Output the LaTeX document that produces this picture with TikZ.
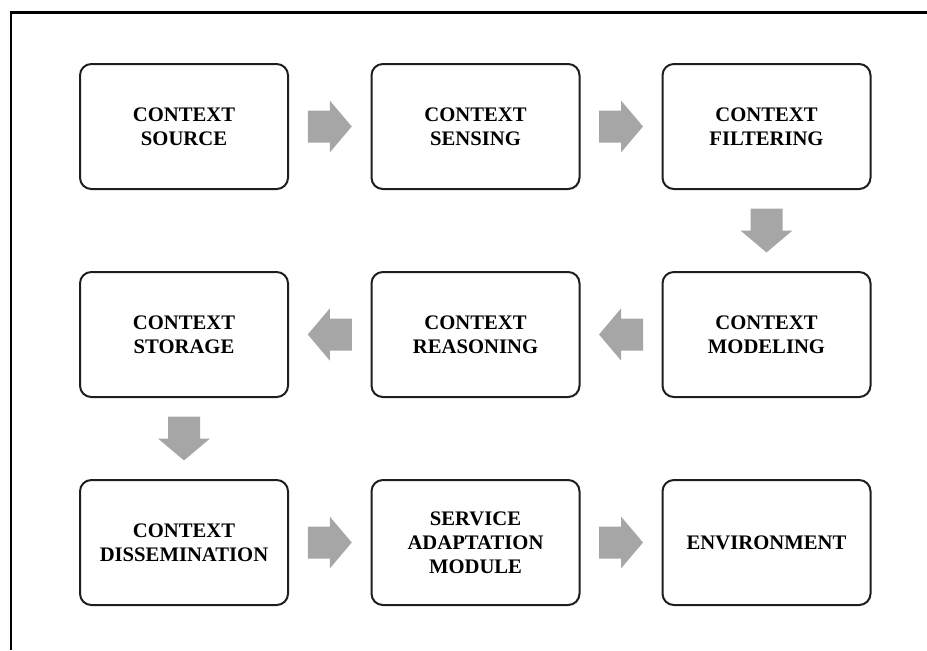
\documentclass[tikz,border=0pt]{standalone}
\usepackage{fontspec}
\setmainfont{Liberation Serif}
\usetikzlibrary{calc}
\definecolor{arrowgray}{HTML}{A6A6A6}
\definecolor{boxline}{HTML}{1E1E1E}
\begin{document}
\begin{tikzpicture}[
  x=0.75pt, y=-0.75pt,
  stage/.style={draw=boxline, line width=1.5pt, rounded corners=8.5pt,
    minimum width=156pt, minimum height=93.75pt, inner sep=2pt,
    align=center, font=\fontsize{15.5}{18}\selectfont\bfseries},
  fatarrow/.pic={\fill[arrowgray] (-22,-16) -- (0,-16) -- (0,-26) -- (22,0)
    -- (0,26) -- (0,16) -- (-22,16) -- cycle;}
]
\useasboundingbox (0,0) rectangle (927,650);
% outer frame (top and left edges)
\draw[line width=2pt, black] (927,12.5) -- (11,12.5) -- (11,650);

% first row
\node[stage] (src)  at (184,126.5)   {CONTEXT\\SOURCE};
\node[stage] (sens) at (475.5,126.5) {CONTEXT\\SENSING};
\node[stage] (filt) at (766.5,126.5) {CONTEXT\\FILTERING};
% second row
\node[stage] (stor) at (184,334.5)   {CONTEXT\\STORAGE};
\node[stage] (reas) at (475.5,334.5) {CONTEXT\\REASONING};
\node[stage] (modl) at (766.5,334.5) {CONTEXT\\MODELING};
% third row
\node[stage] (diss) at (184,542.5)   {CONTEXT\\DISSEMINATION};
\node[stage] (serv) at (475.5,542.5) {SERVICE\\ADAPTATION\\MODULE};
\node[stage] (env)  at (766.5,542.5) {ENVIRONMENT};

% block arrows between stages
\path ($(src.east)!0.5!(sens.west)$)  pic {fatarrow};
\path ($(sens.east)!0.5!(filt.west)$) pic {fatarrow};
\path ($(filt.south)!0.5!(modl.north)$) pic[rotate=-90] {fatarrow};
\path ($(modl.west)!0.5!(reas.east)$) pic[rotate=180] {fatarrow};
\path ($(reas.west)!0.5!(stor.east)$) pic[rotate=180] {fatarrow};
\path ($(stor.south)!0.5!(diss.north)$) pic[rotate=-90] {fatarrow};
\path ($(diss.east)!0.5!(serv.west)$) pic {fatarrow};
\path ($(serv.east)!0.5!(env.west)$)  pic {fatarrow};
\end{tikzpicture}
\end{document}
